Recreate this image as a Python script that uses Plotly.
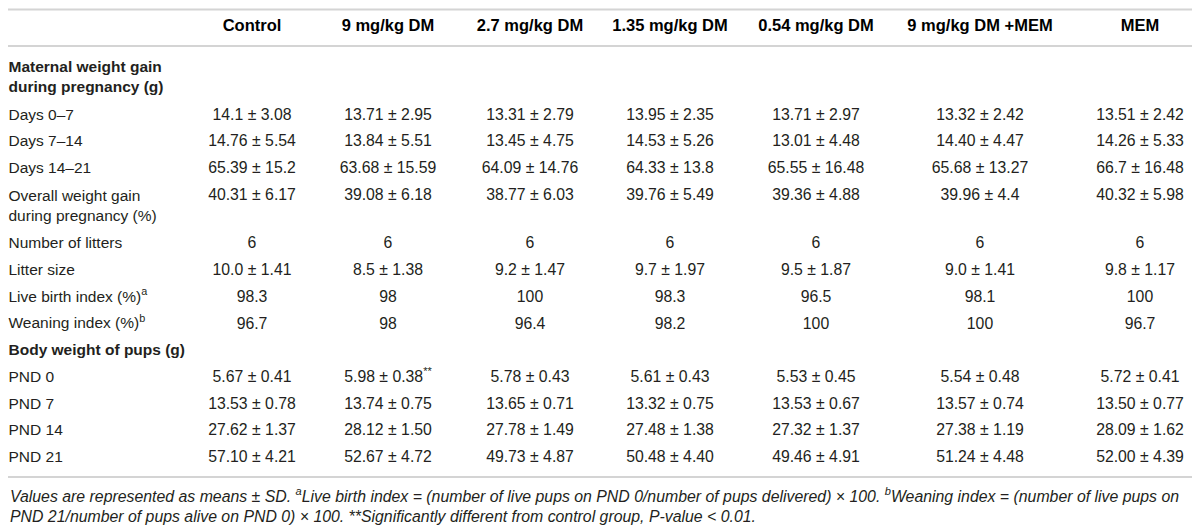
import plotly.graph_objects as go

# column groups and row labels
groups = ["Control", "9 mg/kg DM", "2.7 mg/kg DM", "1.35 mg/kg DM",
          "0.54 mg/kg DM", "9 mg/kg DM +MEM", "MEM"]

row_labels = ["<b>Maternal weight gain<br>during pregnancy (g)</b>",
              "Days 0–7", "Days 7–14", "Days 14–21",
              "Overall weight gain<br>during pregnancy (%)",
              "Number of litters", "Litter size",
              "Live birth index (%)<sup>a</sup>", "Weaning index (%)<sup>b</sup>",
              "<b>Body weight of pups (g)</b>",
              "PND 0", "PND 7", "PND 14", "PND 21"]

control = ["", "14.1 ± 3.08", "14.76 ± 5.54", "65.39 ± 15.2", "40.31 ± 6.17", "6",
           "10.0 ± 1.41", "98.3", "96.7", "", "5.67 ± 0.41", "13.53 ± 0.78",
           "27.62 ± 1.37", "57.10 ± 4.21"]
dm_9 = ["", "13.71 ± 2.95", "13.84 ± 5.51", "63.68 ± 15.59", "39.08 ± 6.18", "6",
        "8.5 ± 1.38", "98", "98", "", "5.98 ± 0.38<sup>**</sup>", "13.74 ± 0.75",
        "28.12 ± 1.50", "52.67 ± 4.72"]
dm_27 = ["", "13.31 ± 2.79", "13.45 ± 4.75", "64.09 ± 14.76", "38.77 ± 6.03", "6",
         "9.2 ± 1.47", "100", "96.4", "", "5.78 ± 0.43", "13.65 ± 0.71",
         "27.78 ± 1.49", "49.73 ± 4.87"]
dm_135 = ["", "13.95 ± 2.35", "14.53 ± 5.26", "64.33 ± 13.8", "39.76 ± 5.49", "6",
          "9.7 ± 1.97", "98.3", "98.2", "", "5.61 ± 0.43", "13.32 ± 0.75",
          "27.48 ± 1.38", "50.48 ± 4.40"]
dm_054 = ["", "13.71 ± 2.97", "13.01 ± 4.48", "65.55 ± 16.48", "39.36 ± 4.88", "6",
          "9.5 ± 1.87", "96.5", "100", "", "5.53 ± 0.45", "13.53 ± 0.67",
          "27.32 ± 1.37", "49.46 ± 4.91"]
dm_9_mem = ["", "13.32 ± 2.42", "14.40 ± 4.47", "65.68 ± 13.27", "39.96 ± 4.4", "6",
            "9.0 ± 1.41", "98.1", "100", "", "5.54 ± 0.48", "13.57 ± 0.74",
            "27.38 ± 1.19", "51.24 ± 4.48"]
mem = ["", "13.51 ± 2.42", "14.26 ± 5.33", "66.7 ± 16.48", "40.32 ± 5.98", "6",
       "9.8 ± 1.17", "100", "96.7", "", "5.72 ± 0.41", "13.50 ± 0.77",
       "28.09 ± 1.62", "52.00 ± 4.39"]

footnote = ("Values are represented as means ± SD. <sup>a</sup>Live birth index = (number of live pups on "
            "PND 0/number of pups delivered) × 100. <sup>b</sup>Weaning index = (number of live pups on<br>"
            "PND 21/number of pups alive on PND 0) × 100. **Significantly different from control group, "
            "P-value < 0.01.")

columns = [control, dm_9, dm_27, dm_135, dm_054, dm_9_mem, mem]

# layout of the table (page pixels; the page body has an 8px margin)
page_margin = 8
col_x = [252, 388, 530, 670, 816, 980, 1140]
header_y = 27
first_row_top = 67
row_pitch = 26.7
line_h = 22
font = "Liberation Sans"
ink = "#231f20"

# row y positions: first line and block centre
line_counts = [l.count("<br>") + 1 for l in row_labels]
first_line_y, centre_y = [], []
y = first_row_top
for n in line_counts:
    first_line_y.append(y)
    centre_y.append(y + (n - 1) * line_h / 2)
    y += row_pitch + (n - 1) * line_h

fig = go.Figure()

# header
fig.add_trace(go.Scatter(
    x=col_x, y=[header_y] * len(groups), mode="text",
    text=["<b>%s</b>" % g for g in groups], textposition="middle center",
    textfont=dict(family=font, size=16.5, color="#000"), hoverinfo="skip"))

# row labels
fig.add_trace(go.Scatter(
    x=[page_margin + 0.5] * len(row_labels), y=centre_y, mode="text", cliponaxis=False,
    text=row_labels, textposition="middle right",
    textfont=dict(family=font, size=15.5, color=ink), hoverinfo="skip"))

# values (empty cells skipped)
for cx, vals in zip(col_x, columns):
    ys = [fy for fy, v in zip(first_line_y, vals) if v]
    txt = [v for v in vals if v]
    fig.add_trace(go.Scatter(
        x=[cx] * len(txt), y=ys, mode="text",
        text=txt, textposition="middle center",
        textfont=dict(family=font, size=15.8, color=ink), hoverinfo="skip"))

# rules
for ry in [page_margin + 1.5, 46, 477]:
    fig.add_shape(type="line", x0=page_margin, x1=1196, y0=ry, y1=ry, xref="x", yref="y",
                  line=dict(color="#d4d4d4", width=2))

fig.add_annotation(
    x=page_margin, y=505, xref="x", yref="y", xanchor="left", yanchor="middle",
    text="<i>%s</i>" % footnote, showarrow=False, align="left",
    font=dict(family=font, size=15.85, color=ink))

fig.update_xaxes(range=[page_margin, 1200], visible=False, fixedrange=True)
fig.update_yaxes(range=[532, page_margin], visible=False, fixedrange=True)
fig.update_layout(width=1200 - page_margin, height=532 - page_margin,
                  margin=dict(l=0, r=0, t=0, b=0),
                  showlegend=False, plot_bgcolor="white", paper_bgcolor="white")

fig.write_html("out.html")
